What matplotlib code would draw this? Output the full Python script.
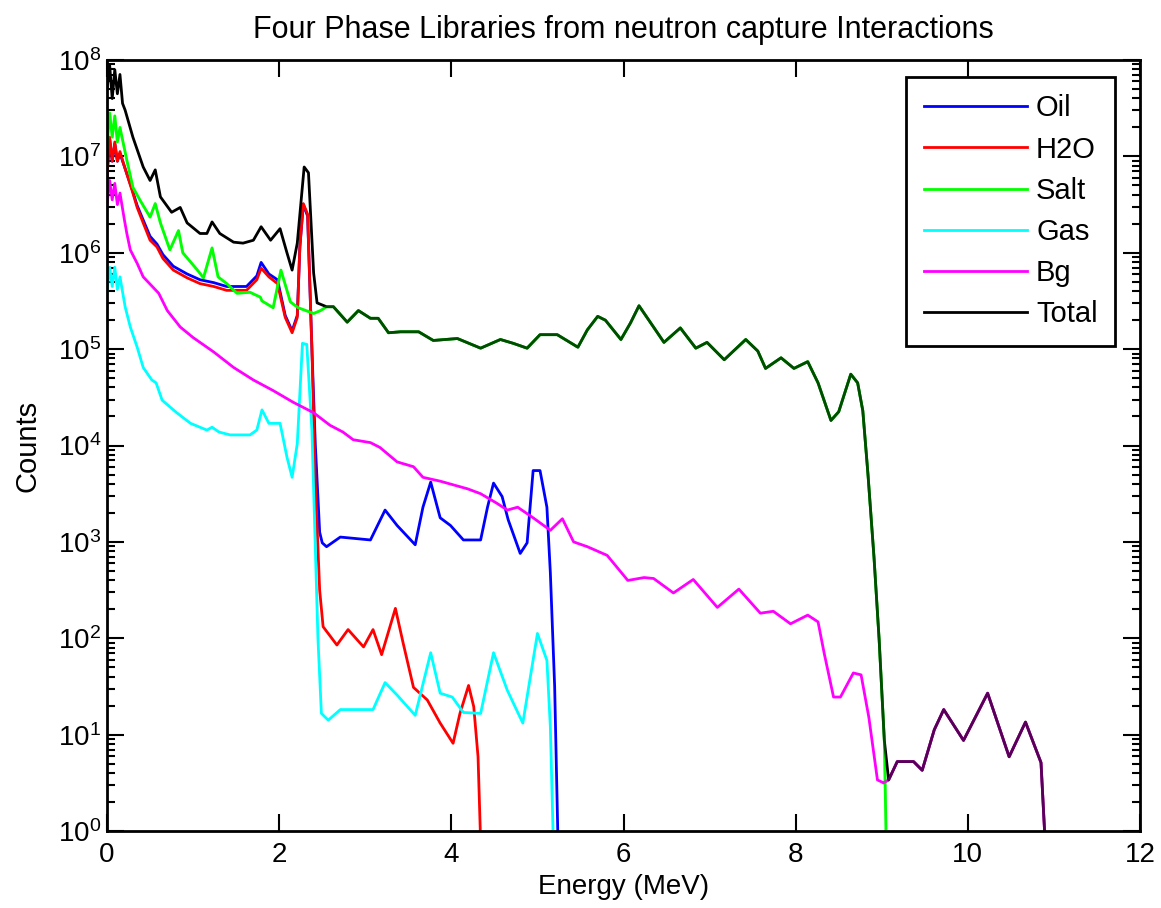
import numpy as np
from matplotlib import pyplot as plt

plt.rcParams['font.family'] = ['Liberation Sans', 'DejaVu Sans']
plt.rcParams['font.size'] = 20

# energies in MeV, counts stored as log10 (-1 means empty bin, below the axis)
oil_E = [0.00, 0.03, 0.06, 0.09, 0.12, 0.15, 0.20, 0.29, 0.35, 0.42, 0.50, 0.58, 0.65, 0.77,
         0.93, 1.08, 1.24, 1.39, 1.62, 1.74, 1.79, 1.88, 1.98, 2.07, 2.15, 2.21, 2.24, 2.28,
         2.33, 2.38, 2.42, 2.47, 2.50, 2.55, 2.71, 3.06, 3.23, 3.37, 3.58, 3.67, 3.76, 3.87,
         3.99, 4.14, 4.34, 4.42, 4.49, 4.59, 4.66, 4.80, 4.88, 4.95, 5.03, 5.11, 5.15, 5.20, 5.26]
oil_log = [6.80, 7.18, 6.95, 7.13, 6.95, 7.03, 6.90, 6.66, 6.49, 6.34, 6.17, 6.09, 5.98, 5.86,
           5.78, 5.72, 5.69, 5.65, 5.65, 5.76, 5.90, 5.78, 5.72, 5.35, 5.19, 5.35, 6.06, 6.50,
           6.38, 5.00, 4.00, 3.10, 2.99, 2.95, 3.05, 3.02, 3.33, 3.17, 2.97, 3.36, 3.62, 3.25,
           3.17, 3.02, 3.02, 3.36, 3.61, 3.47, 3.23, 2.88, 2.99, 3.74, 3.74, 3.36, 2.68, 1.50, -1]

h2o_E = [0.00, 0.03, 0.06, 0.09, 0.12, 0.15, 0.20, 0.29, 0.35, 0.42, 0.50, 0.58, 0.65, 0.77,
         0.93, 1.08, 1.24, 1.39, 1.62, 1.74, 1.79, 1.88, 1.98, 2.07, 2.15, 2.21, 2.24, 2.28,
         2.33, 2.38, 2.42, 2.47, 2.51, 2.67, 2.80, 2.98, 3.09, 3.19, 3.35, 3.44, 3.56, 3.72,
         3.87, 4.02, 4.10, 4.20, 4.26, 4.31, 4.37]
h2o_log = [6.80, 7.20, 6.95, 7.15, 6.95, 7.05, 6.90, 6.65, 6.47, 6.31, 6.13, 6.06, 5.94, 5.82,
           5.74, 5.68, 5.65, 5.61, 5.61, 5.72, 5.84, 5.75, 5.68, 5.33, 5.17, 5.33, 6.06, 6.51,
           6.40, 5.00, 3.60, 2.50, 2.12, 1.93, 2.09, 1.91, 2.09, 1.83, 2.31, 1.95, 1.49, 1.36,
           1.12, 0.91, 1.22, 1.51, 1.29, 0.77, -1]

salt_E = [0.00, 0.03, 0.06, 0.09, 0.12, 0.15, 0.23, 0.30, 0.38, 0.50, 0.56, 0.62, 0.73, 0.83,
          0.88, 1.05, 1.12, 1.22, 1.29, 1.39, 1.51, 1.66, 1.78, 1.80, 1.93, 2.02, 2.13, 2.22,
          2.40, 2.48, 2.55, 2.63, 2.79, 2.92, 3.06, 3.15, 3.27, 3.41, 3.62, 3.79, 4.07, 4.34,
          4.57, 4.72, 4.88, 5.03, 5.23, 5.47, 5.58, 5.70, 5.79, 5.97, 6.08, 6.18, 6.31, 6.47,
          6.66, 6.84, 6.97, 7.17, 7.42, 7.56, 7.65, 7.83, 7.98, 8.14, 8.26, 8.41, 8.50, 8.64,
          8.72, 8.78, 8.84, 8.91, 8.97, 9.03, 9.07]
salt_log = [7.10, 7.45, 7.20, 7.42, 7.15, 7.30, 6.96, 6.68, 6.55, 6.37, 6.51, 6.31, 6.03, 6.23,
            6.00, 5.82, 5.74, 6.05, 5.75, 5.68, 5.58, 5.59, 5.54, 5.50, 5.43, 5.82, 5.49, 5.43,
            5.37, 5.40, 5.44, 5.44, 5.28, 5.40, 5.32, 5.32, 5.17, 5.18, 5.18, 5.09, 5.11, 5.01,
            5.10, 5.06, 5.01, 5.15, 5.15, 5.02, 5.20, 5.34, 5.30, 5.10, 5.27, 5.45, 5.28, 5.07,
            5.22, 5.01, 5.07, 4.89, 5.10, 4.98, 4.80, 4.91, 4.80, 4.87, 4.65, 4.26, 4.35, 4.74,
            4.65, 4.36, 3.70, 2.84, 1.98, 0.94, -1]

gas_E = [0.00, 0.03, 0.06, 0.09, 0.12, 0.15, 0.21, 0.27, 0.35, 0.42, 0.52, 0.57, 0.64, 0.81,
         0.97, 1.16, 1.22, 1.30, 1.43, 1.66, 1.74, 1.80, 1.88, 2.01, 2.09, 2.15, 2.21, 2.27,
         2.32, 2.38, 2.45, 2.49, 2.57, 2.71, 3.09, 3.23, 3.37, 3.58, 3.76, 3.87, 4.01, 4.14,
         4.34, 4.49, 4.65, 4.83, 5.00, 5.11, 5.15, 5.21]
gas_log = [5.60, 5.85, 5.65, 5.85, 5.62, 5.75, 5.44, 5.23, 5.02, 4.81, 4.68, 4.65, 4.47, 4.34,
           4.23, 4.16, 4.19, 4.14, 4.11, 4.11, 4.16, 4.37, 4.23, 4.23, 3.88, 3.67, 4.02, 5.06,
           5.05, 4.16, 2.00, 1.22, 1.15, 1.26, 1.26, 1.54, 1.41, 1.20, 1.85, 1.43, 1.39, 1.23,
           1.22, 1.85, 1.46, 1.12, 2.05, 1.77, 1.08, -1]

bg_E = [0.00, 0.03, 0.06, 0.09, 0.12, 0.15, 0.20, 0.23, 0.27, 0.35, 0.42, 0.60, 0.70, 0.85,
        1.00, 1.24, 1.47, 1.70, 1.93, 2.16, 2.40, 2.59, 2.74, 2.86, 3.06, 3.17, 3.37, 3.56,
        3.67, 3.87, 4.19, 4.34, 4.53, 4.65, 4.77, 4.95, 5.15, 5.29, 5.42, 5.58, 5.81, 6.05,
        6.24, 6.35, 6.58, 6.81, 7.09, 7.34, 7.59, 7.74, 7.94, 8.14, 8.26, 8.33, 8.44, 8.52,
        8.67, 8.76, 8.85, 8.95, 9.02, 9.08, 9.18, 9.37, 9.47, 9.61, 9.72, 9.95, 10.23, 10.48,
        10.67, 10.85, 10.95]
bg_log = [6.50, 6.75, 6.55, 6.72, 6.50, 6.62, 6.35, 6.20, 6.03, 5.89, 5.75, 5.58, 5.40, 5.23,
          5.12, 4.97, 4.81, 4.68, 4.57, 4.45, 4.34, 4.21, 4.14, 4.06, 4.03, 3.98, 3.83, 3.78,
          3.67, 3.63, 3.55, 3.50, 3.40, 3.33, 3.36, 3.25, 3.12, 3.24, 3.00, 2.95, 2.86, 2.60,
          2.63, 2.62, 2.47, 2.61, 2.32, 2.51, 2.26, 2.28, 2.15, 2.24, 2.17, 1.85, 1.39, 1.39,
          1.64, 1.62, 1.18, 0.53, 0.50, 0.53, 0.72, 0.72, 0.63, 1.05, 1.26, 0.94, 1.43, 0.77,
          1.13, 0.71, -1]

total_E = [0.00, 0.03, 0.06, 0.09, 0.12, 0.15, 0.18, 0.21, 0.30, 0.42, 0.50, 0.56, 0.62, 0.75,
           0.85, 0.93, 1.08, 1.16, 1.22, 1.31, 1.47, 1.58, 1.70, 1.79, 1.90, 2.01, 2.09, 2.15,
           2.21, 2.29, 2.34, 2.40, 2.44, 2.55, 2.63, 2.79, 2.92, 3.06, 3.15, 3.27, 3.41, 3.62,
           3.79, 4.07, 4.34, 4.57, 4.72, 4.88, 5.03, 5.23, 5.47, 5.58, 5.70, 5.79, 5.97, 6.08,
           6.18, 6.31, 6.47, 6.66, 6.84, 6.97, 7.17, 7.42, 7.56, 7.65, 7.83, 7.98, 8.14, 8.26,
           8.41, 8.50, 8.64, 8.72, 8.78, 8.84, 8.91, 8.97, 9.03, 9.08, 9.18, 9.37, 9.47, 9.61,
           9.72, 9.95, 10.23, 10.48, 10.67, 10.85, 10.95]
total_log = [7.70, 7.95, 7.60, 7.90, 7.65, 7.85, 7.55, 7.48, 7.20, 6.89, 6.75, 6.86, 6.58, 6.42,
             6.47, 6.31, 6.20, 6.20, 6.32, 6.20, 6.11, 6.10, 6.13, 6.27, 6.13, 6.25, 6.00, 5.82,
             6.10, 6.89, 6.83, 5.79, 5.48, 5.44, 5.44, 5.28, 5.40, 5.32, 5.32, 5.17, 5.18, 5.18,
             5.09, 5.11, 5.01, 5.10, 5.06, 5.01, 5.15, 5.15, 5.02, 5.20, 5.34, 5.30, 5.10, 5.27,
             5.45, 5.28, 5.07, 5.22, 5.01, 5.07, 4.89, 5.10, 4.98, 4.80, 4.91, 4.80, 4.87, 4.65,
             4.26, 4.35, 4.74, 4.65, 4.36, 3.70, 2.84, 1.98, 0.94, 0.53, 0.72, 0.72, 0.63, 1.05,
             1.26, 0.94, 1.43, 0.77, 1.13, 0.71, -1]

series = [
    ('Oil', oil_E, oil_log, (0, 0, 1)),
    ('H2O', h2o_E, h2o_log, (1, 0, 0)),
    ('Salt', salt_E, salt_log, (0, 1, 0)),
    ('Gas', gas_E, gas_log, (0, 1, 1)),
    ('Bg', bg_E, bg_log, (1, 0, 1)),
    ('Total', total_E, total_log, (0, 0, 0)),
]

fig = plt.figure(figsize=(11.61, 9.08), dpi=100)
ax = fig.add_axes([0.0922, 0.0848, 0.8897, 0.8491])

for name, E, lg, col in series:
    ax.plot(E, 10.0 ** np.array(lg), color=col, lw=2, label=name)

# salt and bg lie on the total where they dominate; tint it like the original
ax.plot(salt_E, 10.0 ** np.array(salt_log), color=(0, 1, 0), lw=2, alpha=0.3)
ax.plot(bg_E[60:], 10.0 ** np.array(bg_log[60:]), color=(1, 0, 1), lw=2, alpha=0.35)

ax.set_yscale('log')
ax.set_xlim(0, 12)
ax.set_ylim(1, 1e8)
ax.set_xticks(range(0, 13, 2))
ax.tick_params(which='both', direction='in', top=True, right=True, width=1.5)
ax.tick_params(which='major', length=12)
ax.tick_params(which='minor', length=6)
ax.tick_params(axis='x', pad=8)
ax.tick_params(axis='y', pad=4)
for s in ax.spines.values():
    s.set_linewidth(2)

ax.set_title('Four Phase Libraries from neutron capture Interactions', fontsize=22, pad=16)
ax.set_xlabel('Energy (MeV)', labelpad=4)
ax.set_ylabel('Counts', fontsize=21, labelpad=12)

leg = ax.legend(loc='upper right', bbox_to_anchor=(0.976, 0.978), borderaxespad=0,
                fancybox=False, edgecolor='black', framealpha=1, handlelength=3.55,
                handletextpad=0.3, labelspacing=0.45, borderpad=0.6, fontsize=21)
leg.get_frame().set_linewidth(2)

fig.savefig('out.png', dpi=100)
